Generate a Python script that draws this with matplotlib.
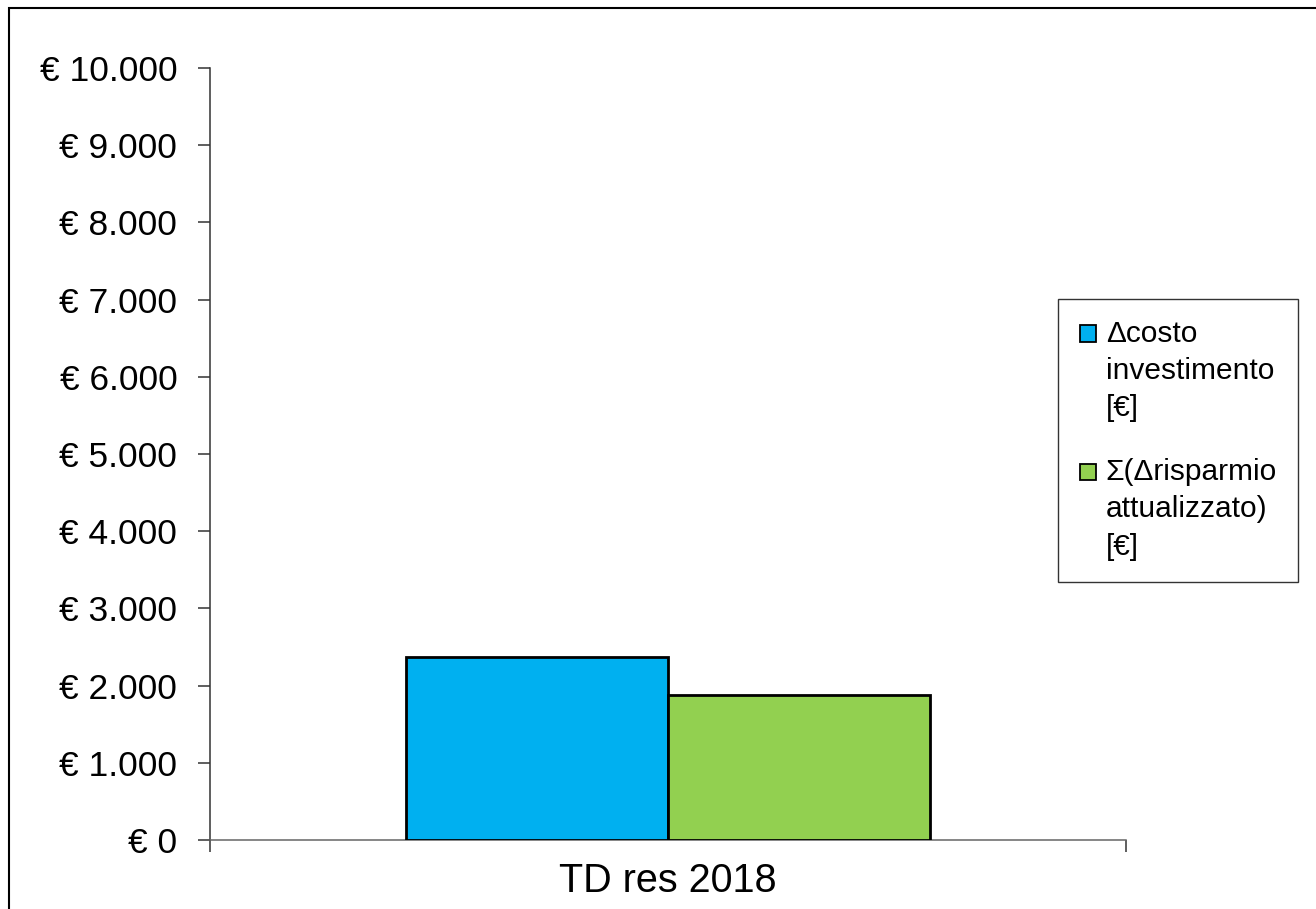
import matplotlib
matplotlib.use("Agg")
import matplotlib.pyplot as plt
import matplotlib.patches as mpatches
from matplotlib.legend_handler import HandlerPatch
from matplotlib.ticker import FuncFormatter

plt.rcParams["font.family"] = ["Liberation Sans", "DejaVu Sans"]

# data
category = "TD res 2018"
series_labels = ["\u0394costo\ninvestimento\n[\u20ac]",
                 "\u03a3(\u0394risparmio\nattualizzato)\n[\u20ac]"]
series_values = [2374, 1878]
series_colors = ["#00B0F0", "#92D050"]
y_ticks = list(range(0, 10001, 1000))

W, H = 1316, 909
fig = plt.figure(figsize=(W / 100, H / 100), dpi=100)
ax = fig.add_axes([210 / W, 1 - 840 / H, (1126 - 210) / W, (840 - 68) / H])

bar_w = 0.286
offsets = [-bar_w / 2, bar_w / 2]
containers = []
for off, val, col, lab in zip(offsets, series_values, series_colors, series_labels):
    c = ax.bar(off, val, width=bar_w, color=col, edgecolor="black", linewidth=2.0,
               label=lab, zorder=3)
    containers.append(c)

ax.set_xlim(-0.5, 0.5)
ax.set_ylim(0, 10000)
ax.set_yticks(y_ticks)
ax.yaxis.set_major_formatter(
    FuncFormatter(lambda v, _: "\u20ac " + f"{int(v):,}".replace(",", ".")))
ax.tick_params(axis="y", direction="out", length=8.5, width=1.1, color="#333333",
               labelsize=25.5, pad=15)

# category boundaries get tick marks, the label sits in the middle
ax.set_xticks([-0.5, 0.5], ["", ""])
ax.tick_params(axis="x", which="major", direction="out", length=8.5, width=1.1,
               color="#333333")
ax.set_xticks([0], [category], minor=True)
ax.tick_params(axis="x", which="minor", length=0, labelsize=28.5, pad=16)

for s in ("top", "right"):
    ax.spines[s].set_visible(False)
ax.spines["left"].set_color("#333333")
ax.spines["left"].set_linewidth(1.1)
ax.spines["bottom"].set_color("#666666")
ax.spines["bottom"].set_linewidth(1.1)


# legend square aligned with the first text line, like Excel does
FS = 21.5
LS = 1.42


def top_square(legend, orig_handle, xdescent, ydescent, width, height, fontsize):
    s = 0.54 * fontsize
    return mpatches.Rectangle((-xdescent + (width - s) / 2,
                               -ydescent + (height - s) / 2 + LS * 0.9 * fontsize),
                              s, s)


handles = [c.patches[0] for c in containers]
leg = ax.legend(handles, series_labels, loc="upper left",
                bbox_to_anchor=(1058 / W, 1 - 299 / H), bbox_transform=fig.transFigure,
                borderaxespad=0, fontsize=FS, frameon=True, fancybox=False,
                edgecolor="black", handlelength=0.6, handleheight=0.7,
                handletextpad=0.3, borderpad=0.7, labelspacing=1.2,
                handler_map={mpatches.Rectangle: HandlerPatch(patch_func=top_square)})
leg.get_frame().set_linewidth(1.0)
for t in leg.get_texts():
    t.set_linespacing(LS)
for h in leg.legend_handles:
    h.set_linewidth(1.3)

# outer chart frame
fig.patches.append(mpatches.Rectangle((9 / W, -0.1), 1.2, 1.1 - 8 / H,
                                      transform=fig.transFigure, fill=False,
                                      edgecolor="black", linewidth=1.5))

fig.savefig("out.png", dpi=100)
